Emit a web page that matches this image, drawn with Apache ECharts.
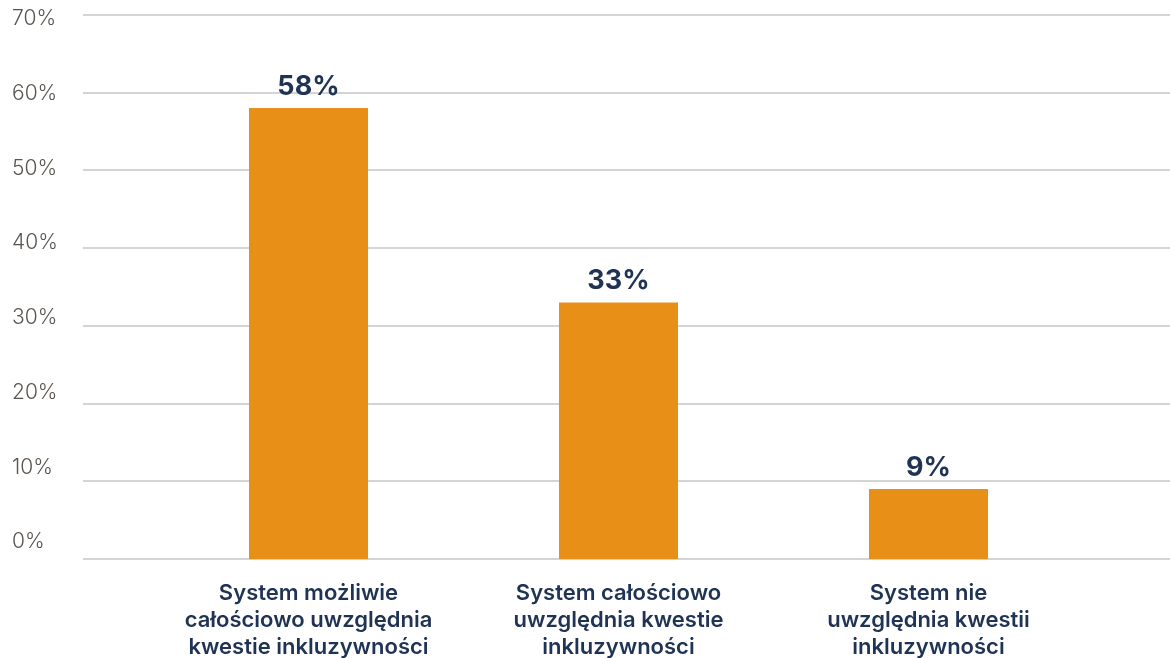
<!DOCTYPE html>
<html>
<head>
<meta charset="utf-8">
<script src="https://cdn.jsdelivr.net/npm/echarts@6/dist/echarts.min.js"></script>
<style>
  html, body { margin: 0; padding: 0; background: #ffffff; }
  #chart { width: 1170px; height: 658px; }
</style>
</head>
<body>
<div id="chart"></div>
<script>
// Answer categories (bottom axis), shares in percent, and the value-axis ticks
const categories = [
  'System możliwie\ncałościowo uwzględnia\nkwestie inkluzywności',
  'System całościowo\nuwzględnia kwestie\ninkluzywności',
  'System nie\nuwzględnia kwestii\ninkluzywności'
];
const shares = [58, 33, 9];
const yTicks = [0, 10, 20, 30, 40, 50, 60, 70];

const Y_MIN = yTicks[0];
const Y_MAX = yTicks[yTicks.length - 1];
const Y_STEP = yTicks[1] - yTicks[0];

const ORANGE = '#E88F18';
const NAVY = '#1F3354';
const GRID_GREY = '#C6C6C6';
const LABEL_GREY = '#5B5550';
const FONT = 'Inter, Roboto, "Noto Sans", sans-serif';

const chart = echarts.init(document.getElementById('chart'), null, { renderer: 'canvas' });

chart.setOption({
  backgroundColor: '#ffffff',
  animation: false,
  grid: [
    // full-width grid carrying the horizontal gridlines
    { left: 83, right: 0, top: 14.7, bottom: 99, outerBoundsMode: 'none' },
    // narrower grid for the bars and category labels
    { left: 153.5, right: 86.5, top: 14.7, bottom: 99, outerBoundsMode: 'none' },
    // grid that positions the percentage tick labels
    { left: 83, right: 0, top: 19, bottom: 116, outerBoundsMode: 'none' }
  ],
  xAxis: [
    { type: 'category', gridIndex: 0, data: categories, show: false },
    {
      type: 'category', gridIndex: 1, data: categories,
      axisLine: { show: false }, axisTick: { show: false },
      axisLabel: {
        interval: 0, margin: 21,
        color: NAVY, fontFamily: FONT, fontWeight: 600,
        fontSize: 22, lineHeight: 27, align: 'center'
      }
    },
    { type: 'category', gridIndex: 2, data: categories, show: false }
  ],
  yAxis: [
    {
      type: 'value', gridIndex: 0, min: Y_MIN, max: Y_MAX, interval: Y_STEP,
      axisLine: { show: false }, axisTick: { show: false },
      axisLabel: { show: false },
      splitLine: { show: true, lineStyle: { color: GRID_GREY, width: 1.5 } }
    },
    {
      type: 'value', gridIndex: 1, min: Y_MIN, max: Y_MAX, interval: Y_STEP,
      show: false, splitLine: { show: false }
    },
    {
      type: 'value', gridIndex: 2, min: Y_MIN, max: Y_MAX, interval: Y_STEP,
      axisLine: { show: false }, axisTick: { show: false },
      splitLine: { show: false },
      axisLabel: {
        margin: 71, align: 'left',
        color: LABEL_GREY, fontFamily: FONT, fontWeight: 300, fontSize: 21,
        formatter: v => v + '%'
      }
    }
  ],
  series: [
    {
      type: 'bar',
      xAxisIndex: 1, yAxisIndex: 1,
      data: shares,
      barWidth: 119,
      itemStyle: { color: ORANGE },
      label: {
        show: true, position: 'top', distance: 8,
        color: NAVY, fontFamily: FONT, fontWeight: 'bold', fontSize: 27,
        formatter: p => p.value + '%'
      }
    }
  ]
});
</script>
</body>
</html>
